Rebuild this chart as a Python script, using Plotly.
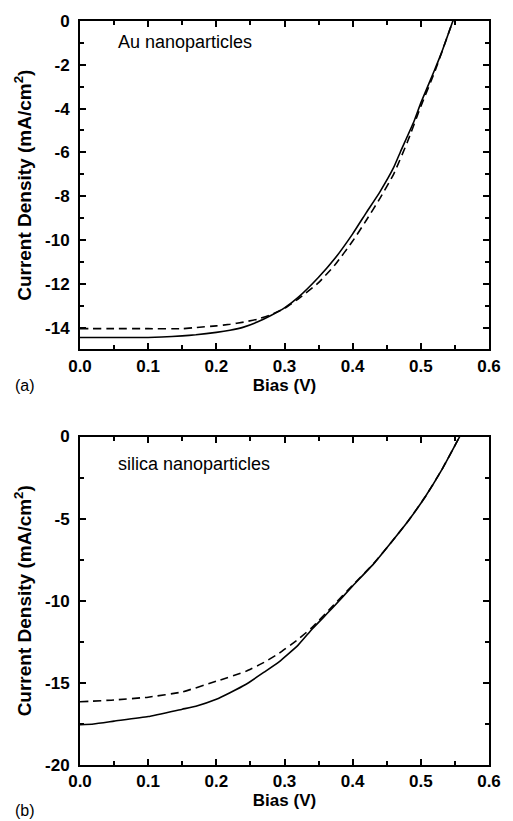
import plotly.graph_objects as go
from plotly.subplots import make_subplots

# (a) Au nanoparticles
bias_a_solid = [0.0, 0.05, 0.10, 0.12, 0.15, 0.17, 0.20, 0.22, 0.24, 0.26, 0.28, 0.30, 0.32,
                0.35, 0.375, 0.40, 0.42, 0.44, 0.46, 0.47, 0.49, 0.50, 0.52, 0.53, 0.547]
j_a_solid = [-14.45, -14.45, -14.45, -14.43, -14.38, -14.33, -14.22, -14.12, -13.98, -13.75, -13.45,
             -13.1, -12.62, -11.7, -10.8, -9.72, -8.75, -7.8, -6.7, -5.98, -4.58, -3.74, -2.25,
             -1.48, 0.0]
bias_a_dash = [0.0, 0.05, 0.10, 0.15, 0.17, 0.20, 0.22, 0.24, 0.26, 0.28, 0.30, 0.32, 0.35,
               0.375, 0.40, 0.42, 0.44, 0.46, 0.48, 0.50, 0.52, 0.547]
j_a_dash = [-14.05, -14.05, -14.05, -14.05, -14.0, -13.92, -13.85, -13.75, -13.62, -13.42, -13.12,
            -12.7, -11.95, -11.1, -10.05, -9.1, -8.1, -7.0, -5.55, -3.9, -2.35, 0.0]

# (b) silica nanoparticles
bias_b_solid = [0.0, 0.02, 0.05, 0.10, 0.15, 0.17, 0.20, 0.22, 0.243, 0.27, 0.292, 0.32, 0.341,
                0.37, 0.40, 0.431, 0.457, 0.482, 0.506, 0.53, 0.557]
j_b_solid = [-17.55, -17.5, -17.33, -17.05, -16.6, -16.42, -16.0, -15.6, -15.1, -14.35, -13.72,
             -12.7, -11.7, -10.46, -9.1, -7.74, -6.42, -5.11, -3.7, -2.08, 0.0]
bias_b_dash = [0.0, 0.05, 0.10, 0.15, 0.20, 0.243, 0.27, 0.292, 0.32, 0.341, 0.37, 0.40, 0.431,
               0.457, 0.482, 0.506, 0.53, 0.557]
j_b_dash = [-16.15, -16.04, -15.87, -15.55, -14.9, -14.3, -13.75, -13.2, -12.35, -11.6, -10.35,
            -9.05, -7.72, -6.42, -5.11, -3.7, -2.08, 0.0]

x_ticks = [0.0, 0.1, 0.2, 0.3, 0.4, 0.5, 0.6]
x_labels = ["0.0", "0.1", "0.2", "0.3", "0.4", "0.5", "0.6"]
y_ticks_a = [0, -2, -4, -6, -8, -10, -12, -14]
y_labels_a = ["0", "-2", "-4", "-6", "-8", "-10", "-12", "-14"]
y_ticks_b = [0, -5, -10, -15, -20]
y_labels_b = ["0", "-5", "-10", "-15", "-20"]

FONT = "Arial, Liberation Sans, sans-serif"

fig = make_subplots(rows=2, cols=1, vertical_spacing=0.117)

fig.add_trace(go.Scatter(x=bias_a_solid, y=j_a_solid, mode="lines",
                         line=dict(color="black", width=1.6, shape="spline", smoothing=0.4)), row=1, col=1)
fig.add_trace(go.Scatter(x=bias_a_dash, y=j_a_dash, mode="lines",
                         line=dict(color="black", width=1.6, dash="8px,5px", shape="spline", smoothing=0.4)), row=1, col=1)
fig.add_trace(go.Scatter(x=bias_b_solid, y=j_b_solid, mode="lines",
                         line=dict(color="black", width=1.6, shape="spline", smoothing=0.4)), row=2, col=1)
fig.add_trace(go.Scatter(x=bias_b_dash, y=j_b_dash, mode="lines",
                         line=dict(color="black", width=1.6, dash="8px,5px", shape="spline", smoothing=0.4)), row=2, col=1)

axis_common = dict(
    showline=True, linecolor="black", linewidth=2, mirror="allticks",
    ticks="inside", ticklen=6, tickwidth=2, tickcolor="black",
    showgrid=False, zeroline=False,
    tickfont=dict(family=FONT, size=17, color="black", weight="bold"),
)

for r in (1, 2):
    fig.update_xaxes(range=[0, 0.6], tickvals=x_ticks, ticktext=x_labels, ticklabelstandoff=0,
                     minor=dict(dtick=0.05, ticks="inside", ticklen=4, tickwidth=2, tickcolor="black"),
                     title_text="Bias (V)", title_standoff=2,
                     title_font=dict(family=FONT, size=17, color="black", weight="bold"),
                     row=r, col=1, **axis_common)
    fig.update_yaxes(title_text="Current Density (mA/cm<sup>2</sup>)", title_standoff=8,
                     ticklabelstandoff=5,
                     title_font=dict(family=FONT, size=19, color="black", weight="bold"),
                     row=r, col=1, **axis_common)

fig.update_yaxes(range=[-15, 0], tickvals=y_ticks_a, ticktext=y_labels_a,
                 minor=dict(dtick=1, tick0=0, ticks="inside", ticklen=4, tickwidth=2, tickcolor="black"),
                 row=1, col=1)
fig.update_yaxes(range=[-20, 0], tickvals=y_ticks_b, ticktext=y_labels_b,
                 minor=dict(dtick=2.5, tick0=0, ticks="inside", ticklen=4, tickwidth=2, tickcolor="black"),
                 row=2, col=1)

fig.add_annotation(text="Au nanoparticles", xref="x domain", yref="y domain", x=0.088, y=0.935,
                   xanchor="left", yanchor="middle", showarrow=False,
                   font=dict(family=FONT, size=18, color="black"))
fig.add_annotation(text="silica nanoparticles", xref="x2 domain", yref="y2 domain", x=0.088, y=0.915,
                   xanchor="left", yanchor="middle", showarrow=False,
                   font=dict(family=FONT, size=18, color="black"))
fig.add_annotation(text="(a)", xref="paper", yref="paper", x=-0.165, y=0.51,
                   xanchor="left", yanchor="middle", showarrow=False,
                   font=dict(family=FONT, size=16, color="black"))
fig.add_annotation(text="(b)", xref="paper", yref="paper", x=-0.165, y=-0.061,
                   xanchor="left", yanchor="middle", showarrow=False,
                   font=dict(family=FONT, size=16, color="black"))

fig.update_layout(
    width=513, height=821,
    margin=dict(l=80, r=22, t=14, b=56),
    paper_bgcolor="white", plot_bgcolor="white",
    showlegend=False,
)

fig.write_html("out.html", config={"displayModeBar": False},
               post_script="document.body.style.margin='0';")
